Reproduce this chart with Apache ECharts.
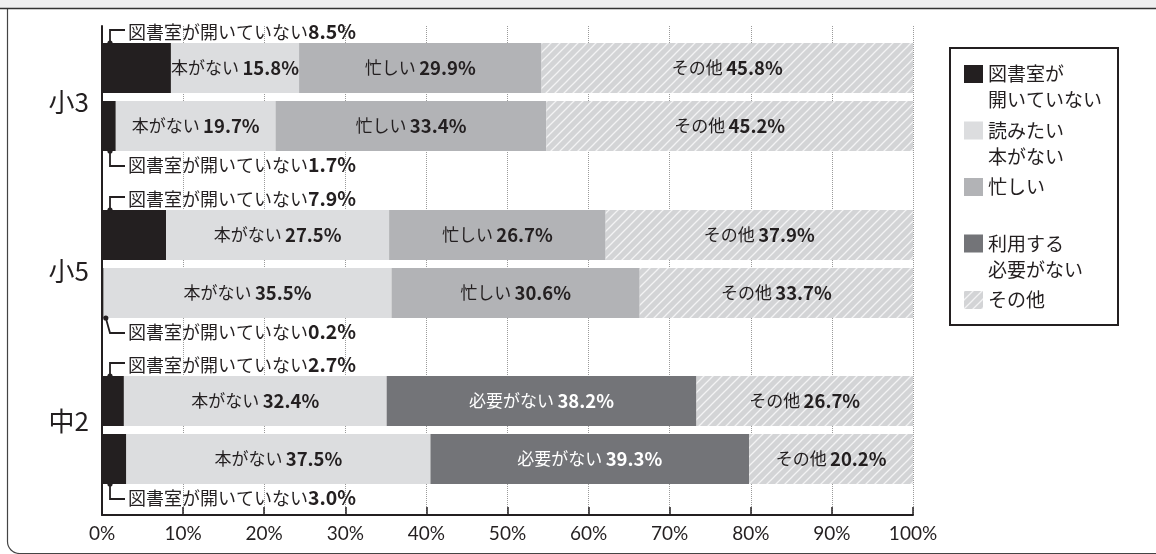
<!DOCTYPE html>
<html>
<head>
<meta charset="utf-8">
<script src="https://cdn.jsdelivr.net/npm/echarts@6/dist/echarts.min.js"></script>
<style>
  html, body { margin: 0; padding: 0; background: #fff; }
  #main { width: 1156px; height: 554px; }
</style>
</head>
<body>
<div id="main"></div>
<script>
// 学年ごとに2本ずつ
const groups = ['小3', '小5', '中2'];
const rows = ['1', '2'];
const seriesNames = ['図書室が開いていない', '読みたい本がない', '忙しい', '利用する必要がない', 'その他'];
const shortNames = ['', '本がない', '忙しい', '必要がない', 'その他'];
const legendNames = ['図書室が\n開いていない', '読みたい\n本がない', '忙しい\n\u3000', '利用する\n必要がない', 'その他\n\u3000'];
const closed = [8.5, 1.7, 7.9, 0.2, 2.7, 3.0];
const noBook = [15.8, 19.7, 27.5, 35.5, 32.4, 37.5];
const busy = [29.9, 33.4, 26.7, 30.6, null, null];
const noNeed = [null, null, null, null, 38.2, 39.3];
const other = [45.8, 45.2, 37.9, 33.7, 26.7, 20.2];
const values = [closed, noBook, busy, noNeed, other];

const INK = '#231f20';
const FONT = '"Noto Sans CJK JP", "Noto Sans", sans-serif';
const LEFT = 102, RIGHT = 243, BAR_W = 50;
const gridTops = [39, 206, 372];
const nameShift = [-7.5, -5.5, -22]; // 学年ラベルの上下位置調整

// その他 の斜線パターン
const makeHatch = () => {
  const c = document.createElement('canvas');
  c.width = 9; c.height = 9;
  const g = c.getContext('2d');
  g.fillStyle = '#d3d4d6';
  g.fillRect(0, 0, 9, 9);
  g.strokeStyle = '#f3f3f4';
  g.lineWidth = 1.3;
  g.beginPath();
  g.moveTo(-1, 10); g.lineTo(10, -1);
  g.moveTo(-1, 1); g.lineTo(1, -1);
  g.moveTo(8, 10); g.lineTo(10, 8);
  g.stroke();
  return c;
};
const colors = [INK, '#dcdddf', '#b2b3b6', '#737478', { image: makeHatch(), repeat: 'repeat' }];
const labelColors = [INK, INK, INK, '#fff', INK];

const chart = echarts.init(document.getElementById('main'));

const grids = [{ left: LEFT, right: RIGHT, top: 26, bottom: 39, outerBoundsMode: 'none' }]
  .concat(gridTops.map(t => ({ left: LEFT, right: RIGHT, top: t, height: 116, outerBoundsMode: 'none' })));

const xAxes = [{
  type: 'value', gridIndex: 0, min: 0, max: 100, interval: 10,
  axisLine: { show: true, lineStyle: { color: INK, width: 2 } },
  axisTick: { show: true, inside: true, length: 8, lineStyle: { color: INK, width: 1.5 } },
  axisLabel: { formatter: '{value}%', color: INK, fontSize: 19, margin: 9, fontFamily: 'Lato, "Noto Sans", sans-serif' },
  splitLine: { show: true, lineStyle: { type: 'dotted', color: '#9a9a9a', width: 1 } }
}].concat(groups.map((g, i) => ({ type: 'value', gridIndex: i + 1, min: 0, max: 100, show: false })));

const yAxes = [{
  type: 'value', gridIndex: 0, min: 0, max: 1,
  axisLine: { show: true, lineStyle: { color: INK, width: 2 } },
  axisTick: { show: false }, axisLabel: { show: false }, splitLine: { show: false }
}].concat(groups.map((g, i) => ({
  type: 'category', gridIndex: i + 1, inverse: true, data: rows,
  axisLine: { show: false }, axisTick: { show: false }, axisLabel: { show: false },
  name: g, nameLocation: 'middle', nameRotate: 0, nameGap: 13,
  nameTextStyle: {
    fontSize: 26, lineHeight: 26, color: INK, fontFamily: FONT,
    verticalAlign: 'top', padding: [nameShift[i], 0, 0, 0]
  }
})));

const series = [];
groups.forEach((g, gi) => {
  seriesNames.forEach((name, si) => {
    series.push({
      type: 'bar', name, stack: 'g' + gi, barWidth: BAR_W,
      xAxisIndex: gi + 1, yAxisIndex: gi + 1,
      data: values[si].slice(gi * 2, gi * 2 + 2),
      itemStyle: { color: colors[si] },
      label: {
        show: si > 0, position: 'inside',
        formatter: p => p.value == null ? '' : `{a|${shortNames[si]}} {b|${p.value.toFixed(1)}%}`,
        rich: {
          a: { fontSize: 17, color: labelColors[si], fontFamily: FONT },
          b: { fontSize: 18.5, fontWeight: 'bold', color: labelColors[si], fontFamily: FONT }
        }
      }
    });
  });
  // 図書室が開いていない の注記
  series.push({
    type: 'custom', name: 'note', silent: true, z: 5,
    xAxisIndex: gi + 1, yAxisIndex: gi + 1,
    data: closed.slice(gi * 2, gi * 2 + 2).map((v, r) => [v, r]),
    renderItem: (params, api) => {
      const v = api.value(0), row = api.value(1);
      const start = api.coord([0, row]);
      const end = api.coord([v, row]);
      const up = row === 0;
      const edgeY = up ? start[1] - BAR_W / 2 : start[1] + BAR_W / 2;
      const elbowX = start[0] + 8;
      const dotX = Math.min(elbowX, (start[0] + end[0]) / 2 + 3);
      const lineY = up ? edgeY - 13 : edgeY + 15;
      const textY = up ? edgeY - 11 : edgeY + 14;
      return {
        type: 'group',
        children: [
          { type: 'polyline', shape: { points: [[dotX, edgeY], [elbowX, lineY], [elbowX + 15, lineY]] },
            style: { stroke: INK, lineWidth: 1.8, fill: null } },
          { type: 'circle', shape: { cx: dotX, cy: edgeY, r: 2.6 }, style: { fill: INK } },
          { type: 'text', x: elbowX + 18, y: textY,
            style: {
              text: `{a|図書室が開いていない}{b|${v.toFixed(1)}%}`,
              verticalAlign: 'middle', align: 'left',
              rich: {
                a: { fontSize: 18, fill: INK, fontFamily: FONT },
                b: { fontSize: 19.5, fontWeight: 'bold', fill: INK, fontFamily: FONT }
              }
            } }
        ]
      };
    }
  });
});

const option = {
  animation: false,
  backgroundColor: '#fff',
  grid: grids,
  xAxis: xAxes,
  yAxis: yAxes,
  legend: {
    orient: 'vertical', left: 964, top: 61, padding: 0, itemGap: 4.5,
    itemWidth: 19, itemHeight: 44, selectedMode: false,
    icon: 'path://M0,0h19v18h-19z M0,44h0.01v0.01h-0.01z',
    data: seriesNames,
    formatter: name => legendNames[seriesNames.indexOf(name)],
    textStyle: { fontSize: 19, lineHeight: 26, color: INK, fontFamily: FONT }
  },
  graphic: [
    { type: 'rect', shape: { x: 0, y: 0, width: 1156, height: 8 }, style: { fill: '#efeff0' }, silent: true },
    { type: 'rect', shape: { x: 7.5, y: 8.5, width: 1170, height: 545, r: [0, 0, 0, 12] },
      style: { fill: null, stroke: '#444', lineWidth: 1.2 }, silent: true },
    { type: 'line', shape: { x1: 0, y1: 8.5, x2: 1156, y2: 8.5 }, style: { stroke: '#333', lineWidth: 1.5 }, silent: true },
    { type: 'rect', shape: { x: 950, y: 48, width: 168, height: 277 },
      style: { fill: null, stroke: INK, lineWidth: 2 }, silent: true }
  ],
  series
};

option && chart.setOption(option);
</script>
</body>
</html>
